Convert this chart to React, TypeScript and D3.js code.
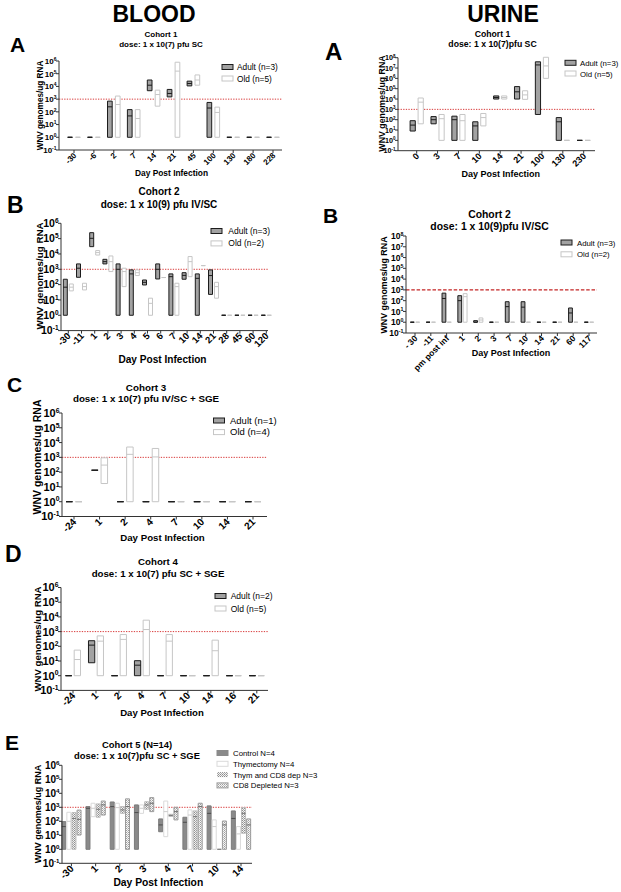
import React from 'react';
import * as d3 from 'd3';

// ================= DATA =================
// Blood, Cohort 1
const bloodC1Days = ['-30', '-6', '2', '7', '14', '21', '45', '100', '130', '180', '228'];
const bloodC1AdultLow = [1, 1, 1, 1, 4600, 1500, 11000, 1, 1, 1, 1];
const bloodC1AdultMid = [1, 1, 250, 48, 12500, 2800, 17000, 200, 1, 1, 1];
const bloodC1AdultHigh = [1, 1, 700, 150, 32000, 5800, 26000, 550, 1, 1, 1];
const bloodC1OldLow = [1, 1, 1, 1, 280, 1, 12500, 1, 1, 1, 1];
const bloodC1OldMid = [1, 1, 380, 30, 2300, 160000, 32000, 90, 1, 1, 1];
const bloodC1OldHigh = [1, 1, 1750, 150, 5100, 800000, 80000, 235, 1, 1, 1];

// Urine, Cohort 1
const urineC1Days = ['0', '3', '7', '10', '14', '21', '100', '130', '230'];
const urineC1AdultLow = [8, 40, 1, 1, 10000, 10000, 320, 1, 1];
const urineC1AdultMid = [30, 100, 100, 25, 14000, 50000, 20000000, 63, 1];
const urineC1AdultHigh = [80, 200, 220, 63, 20000, 160000, 40000000, 160, 1];
const urineC1OldLow = [40, 1, 1, 25, 10000, 9300, 1000000, 1, 1];
const urineC1OldMid = [5000, 125, 80, 160, 14000, 25000, 16000000, 1, 1];
const urineC1OldHigh = [12600, 320, 320, 400, 20000, 63000, 110000000, 1, 1];

// Blood, Cohort 2
const bloodC2Days = ['-30', '-11', '1', '2', '3', '4', '5', '6', '7', '10', '14', '21', '28', '45', '60', '120'];
const bloodC2AdultLow = [1, 300, 30000, 2240, 1, 1, 95, 234, 1, 224, 1, 23, 1, 1, 1, 1];
const bloodC2AdultMid = [68, 1175, 105000, 3160, 1000, 500, 141, 1000, 330, 400, 257, 390, 1, 1, 1, 1];
const bloodC2AdultHigh = [224, 2240, 245000, 4470, 2240, 910, 200, 2240, 500, 600, 500, 910, 1, 1, 1, 1];
const bloodC2OldLow = [39, 45, 8500, 710, 74, 390, 1, 290, 1, 330, 1740, 13, 1, 1, 1, 1];
const bloodC2OldMid = [68, 74, 12300, 3160, 710, 600, 6, 290, 74, 3160, 1740, 74, 1, 1, 1, 1];
const bloodC2OldHigh = [110, 123, 16600, 7400, 1175, 910, 13, 290, 123, 6760, 1740, 141, 1, 1, 1, 1];

// Urine, Cohort 2
const urineC2Days = ['- 30', '-11', 'pm post inf', '1', '2', '3', '7', '10', '14', '21', '60', '117'];
const urineC2AdultLow = [1, 1, 1, 1, 1, 1, 1, 1, 1, 1, 1, 1];
const urineC2AdultMid = [1, 1, 160, 100, 1, 1, 28, 25, 1, 1, 7.2, 1];
const urineC2AdultHigh = [1, 1, 500, 290, 1.4, 1, 80, 80, 1, 1, 21, 1];
const urineC2OldLow = [1, 1, 1, 1, 1, 1, 1, 1, 1, 1, 1, 1];
const urineC2OldMid = [1, 1, 1, 235, 1.6, 1, 1, 1, 1, 1, 1, 1];
const urineC2OldHigh = [1, 1, 1, 450, 2.5, 1, 1, 1, 1, 1, 1, 1];

// Blood, Cohort 3
const bloodC3Days = ['-24', '1', '2', '4', '7', '10', '14', '21'];
const bloodC3AdultLow = [1, 135, 1, 1, 1, 1, 1, 1];
const bloodC3AdultMid = [1, 135, 1, 1, 1, 1, 1, 1];
const bloodC3AdultHigh = [1, 135, 1, 1, 1, 1, 1, 1];
const bloodC3OldLow = [1, 17, 1, 1, 1, 1, 1, 1];
const bloodC3OldMid = [1, 300, 1600, 1070, 1, 1, 1, 1];
const bloodC3OldHigh = [1, 930, 5000, 4000, 1, 1, 1, 1];

// Blood, Cohort 4
const bloodC4Days = ['-24', '1', '2', '4', '7', '10', '14', '16', '21'];
const bloodC4AdultLow = [1, 7.6, 1, 1, 1, 1, 1, 1, 1];
const bloodC4AdultMid = [1, 120, 1, 5.2, 1, 1, 1, 1, 1];
const bloodC4AdultHigh = [1, 240, 1, 10.5, 1, 1, 1, 1, 1];
const bloodC4OldLow = [1, 1, 1, 1, 1, 1, 1, 1, 1];
const bloodC4OldMid = [12.6, 224, 295, 1380, 224, 1, 50, 1, 1];
const bloodC4OldHigh = [55, 510, 630, 6000, 630, 1, 263, 1, 1];

// Blood, Cohort 5
const bloodC5Days = ['-30', '1', '2', '3', '4', '7', '10', '14'];
const c5ControlLow = [1, 1, 1, 1, 18, 1, 1, 1];
const c5ControlMid = [42, 850, 1120, 420, 55, 85, 370, 160];
const c5ControlHigh = [95, 1120, 2400, 1480, 148, 195, 1260, 550];
const c5ThymLow = [1, 214, 1, 370, 8, 1, 1, 1];
const c5ThymMid = [100, 850, 950, 850, 490, 280, 42, 12.6];
const c5ThymHigh = [440, 1950, 1950, 1480, 2800, 650, 126, 42];
const c5ThymCD8Low = [1, 195, 370, 720, 224, 1, 1, 14];
const c5ThymCD8Mid = [160, 720, 650, 1480, 263, 214, 1, 370];
const c5ThymCD8High = [420, 1740, 1120, 2500, 316, 550, 1, 950];
const c5CD8Low = [10.5, 280, 1, 490, 126, 1, 1, 1];
const c5CD8Mid = [138, 1480, 1120, 1950, 490, 1120, 55, 55];
const c5CD8High = [630, 2800, 4000, 4900, 1000, 1950, 105, 148];

const threshold = 1000;

// ================= STYLES =================
const ADULT = { fill: '#a2a2a2', stroke: '#1c1c1c', median: '#1c1c1c', legendStroke: '#1c1c1c' };
const OLD = { fill: '#ffffff', stroke: '#c6c6c6', median: '#c6c6c6', legendStroke: '#c6c6c6' };
const CONTROL = { fill: '#8a8a8a', stroke: '#7c7c7c', median: '#4c4c4c', legendStroke: '#8a8a8a' };
const THYM = { fill: '#ffffff', stroke: '#dadada', median: '#cccccc', legendStroke: '#dadada' };
const THYMCD8 = { fill: 'url(#dotsA)', stroke: '#bdbdbd', median: '#777777', legendStroke: 'none' };
const CD8 = { fill: 'url(#dotsB)', stroke: '#9a9a9a', median: '#6a6a6a', legendStroke: '#9a9a9a' };

const FONT = '"Liberation Sans", Arial, Helvetica, sans-serif';

const pair = (aL, aM, aH, oL, oM, oH, aLab, oLab) => [
  { ...ADULT, label: aLab, low: aL, mid: aM, high: aH },
  { ...OLD, label: oLab, low: oL, mid: oM, high: oH },
];

const panels = [
  {
    key: 'bA', letter: 'A', letterX: 10, letterY: 51.7, letterSize: 21,
    title1: 'Cohort 1', title2: 'dose: 1 x 10(7) pfu SC', titleX: 161, title1Y: 37, title2Y: 47, titleSize: 8,
    cats: bloodC1Days,
    series: pair(bloodC1AdultLow, bloodC1AdultMid, bloodC1AdultHigh, bloodC1OldLow, bloodC1OldMid, bloodC1OldHigh, 'Adult (n=3)', 'Old (n=5)'),
    axisX: 59, xEnd: 282, xFirst: 74, xLast: 273, yTop: 61, yBottom: 150, top: 1e6,
    barW: 4.7, gap: 3.2, tickSize: 8, xtickSize: 8,
    ylabX: 43, ylabY: 105.5, ylabSize: 8.2, xlabX: 171.5, xlabY: 176, xlabSize: 8.4,
    legX: 222, legY: 64.5, legStep: 11.5, legTextX: 237, legSize: 8.3, ref: 'dot',
  },
  {
    key: 'uA', letter: 'A', letterX: 325, letterY: 60, letterSize: 24,
    title1: 'Cohort 1', title2: 'dose: 1 x 10(7)pfu SC', titleX: 492.5, title1Y: 36.5, title2Y: 46.5, titleSize: 8.7,
    cats: urineC1Days,
    series: pair(urineC1AdultLow, urineC1AdultMid, urineC1AdultHigh, urineC1OldLow, urineC1OldMid, urineC1OldHigh, 'Adult (n=3)', 'Old (n=5)'),
    axisX: 398, xEnd: 595, xFirst: 416.7, xLast: 583.7, yTop: 57.7, yBottom: 150.7, top: 1e8,
    barW: 5.2, gap: 2.8, tickSize: 7.2, xtickSize: 9,
    ylabX: 384.5, ylabY: 103.5, ylabSize: 8.8, xlabX: 500.8, xlabY: 177, xlabSize: 9,
    legX: 565, legY: 60.3, legStep: 10.7, legTextX: 580, legSize: 7.8, ref: 'dot',
  },
  {
    key: 'bB', letter: 'B', letterX: 7, letterY: 213, letterSize: 23,
    title1: 'Cohort 2', title2: 'dose: 1 x 10(9) pfu IV/SC', titleX: 159, title1Y: 195, title2Y: 207.7, titleSize: 10,
    cats: bloodC2Days,
    series: pair(bloodC2AdultLow, bloodC2AdultMid, bloodC2AdultHigh, bloodC2OldLow, bloodC2OldMid, bloodC2OldHigh, 'Adult (n=3)', 'Old (n=2)'),
    axisX: 61, xEnd: 268, xFirst: 68.3, xLast: 266.3, yTop: 223.3, yBottom: 330.6, top: 1e6,
    barW: 4, gap: 2, tickSize: 10.5, xtickSize: 9.5,
    ylabX: 42.5, ylabY: 276, ylabSize: 9.8, xlabX: 162.5, xlabY: 363, xlabSize: 10.1,
    legX: 211, legY: 228.5, legStep: 12.4, legTextX: 228.3, legSize: 8.5, ref: 'dot',
  },
  {
    key: 'uB', letter: 'B', letterX: 323, letterY: 223.3, letterSize: 21,
    title1: 'Cohort 2', title2: 'dose: 1 x 10(9)pfu IV/SC', titleX: 489.5, title1Y: 218.3, title2Y: 230, titleSize: 10.4,
    cats: urineC2Days,
    series: pair(urineC2AdultLow, urineC2AdultMid, urineC2AdultHigh, urineC2OldLow, urineC2OldMid, urineC2OldHigh, 'Adult (n=3)', 'Old (n=2)'),
    axisX: 406, xEnd: 597, xFirst: 415, xLast: 589, yTop: 236, yBottom: 333, top: 1e8,
    barW: 3.8, gap: 1.6, tickSize: 8.5, xtickSize: 8.5,
    ylabX: 386.5, ylabY: 285, ylabSize: 8.9, xlabX: 511, xlabY: 356, xlabSize: 9,
    legX: 561, legY: 240, legStep: 11.8, legTextX: 577, legSize: 7.8, ref: 'dash',
  },
  {
    key: 'bC', letter: 'C', letterX: 7, letterY: 391.7, letterSize: 21,
    title1: 'Cohort 3', title2: 'dose: 1 x 10(7) pfu IV/SC + SGE', titleX: 146, title1Y: 390.7, title2Y: 401.7, titleSize: 9.8,
    cats: bloodC3Days,
    series: pair(bloodC3AdultLow, bloodC3AdultMid, bloodC3AdultHigh, bloodC3OldLow, bloodC3OldMid, bloodC3OldHigh, 'Adult (n=1)', 'Old (n=4)'),
    axisX: 62, xEnd: 267, xFirst: 74, xLast: 253, yTop: 413, yBottom: 516.5, top: 1e6,
    barW: 6.5, gap: 3, tickSize: 11, xtickSize: 10,
    ylabX: 41, ylabY: 457, ylabSize: 10.5, xlabX: 162.5, xlabY: 541, xlabSize: 9.7,
    legX: 213.5, legY: 418, legStep: 11.6, legTextX: 230, legSize: 9.5, ref: 'dot',
  },
  {
    key: 'bD', letter: 'D', letterX: 5, letterY: 561.7, letterSize: 23,
    title1: 'Cohort 4', title2: 'dose: 1 x 10(7) pfu SC + SGE', titleX: 158, title1Y: 565, title2Y: 576.7, titleSize: 9.7,
    cats: bloodC4Days,
    series: pair(bloodC4AdultLow, bloodC4AdultMid, bloodC4AdultHigh, bloodC4OldLow, bloodC4OldMid, bloodC4OldHigh, 'Adult (n=2)', 'Old (n=5)'),
    axisX: 61, xEnd: 268, xFirst: 73, xLast: 256.8, yTop: 587.5, yBottom: 690.4, top: 1e6,
    barW: 6.3, gap: 2.4, tickSize: 11, xtickSize: 10,
    ylabX: 41, ylabY: 639, ylabSize: 9.6, xlabX: 162, xlabY: 716, xlabSize: 9.6,
    legX: 215, legY: 593.5, legStep: 12.5, legTextX: 230.7, legSize: 8.5, ref: 'dot',
  },
  {
    key: 'bE', letter: 'E', letterX: 5, letterY: 750, letterSize: 21,
    title1: 'Cohort 5 (N=14)', title2: 'dose: 1 x 10(7)pfu SC + SGE', titleX: 137, title1Y: 747.7, title2Y: 759.3, titleSize: 9.4,
    cats: bloodC5Days,
    series: [
      { ...CONTROL, label: 'Control N=4', low: c5ControlLow, mid: c5ControlMid, high: c5ControlHigh },
      { ...THYM, label: 'Thymectomy N=4', low: c5ThymLow, mid: c5ThymMid, high: c5ThymHigh },
      { ...THYMCD8, label: 'Thym and CD8 dep N=3', low: c5ThymCD8Low, mid: c5ThymCD8Mid, high: c5ThymCD8High },
      { ...CD8, label: 'CD8 Depleted N=3', low: c5CD8Low, mid: c5CD8Mid, high: c5CD8High },
    ],
    axisX: 62, xEnd: 252, xFirst: 71.4, xLast: 241, yTop: 765.3, yBottom: 863.3, top: 1e6,
    barW: 4, gap: 1.1, tickSize: 10, xtickSize: 10,
    ylabX: 41, ylabY: 814, ylabSize: 9, xlabX: 158.3, xlabY: 886, xlabSize: 10.3,
    legX: 217, legY: 750.5, legStep: 10.8, legTextX: 233, legSize: 7.8, ref: 'dot',
  },
];

function Panel({ p }) {
  const y = d3.scaleLog().domain([0.1, p.top]).range([p.yBottom, p.yTop]);
  const x = d3.scalePoint().domain(p.cats).range([p.xFirst, p.xLast]);
  const exps = d3.range(-1, Math.round(Math.log10(p.top)) + 1);
  const n = p.series.length;
  const groupW = n * p.barW + (n - 1) * p.gap;
  const axisY = p.yBottom;
  return (
    <g>
      <text x={p.letterX} y={p.letterY} fontSize={p.letterSize} fontWeight="bold" fontFamily={FONT}>{p.letter}</text>
      <text x={p.titleX} y={p.title1Y} fontSize={p.titleSize} fontWeight="bold" textAnchor="middle" fontFamily={FONT}>{p.title1}</text>
      <text x={p.titleX} y={p.title2Y} fontSize={p.titleSize} fontWeight="bold" textAnchor="middle" fontFamily={FONT}>{p.title2}</text>

      {/* threshold line */}
      <line x1={p.axisX} x2={p.xEnd} y1={y(threshold)} y2={y(threshold)}
        stroke={p.ref === 'dash' ? '#c42424' : '#d83a3a'} strokeWidth={p.ref === 'dash' ? 1.1 : 1}
        strokeDasharray={p.ref === 'dash' ? '3.5,1.8' : '1.3,1.3'} />

      {/* bars */}
      {p.cats.map((c, ci) => {
        const cx = x(c);
        return p.series.map((s, si) => {
          const left = cx - groupW / 2 + si * (p.barW + p.gap);
          const yHi = y(s.high[ci]);
          const yLo = y(s.low[ci]);
          const yMid = y(s.mid[ci]);
          const d = `M${left},${yHi}H${left + p.barW}V${yLo}H${left}Z`;
          return (
            <g key={`${ci}-${si}`}>
              <path d={d} fill={s.fill} stroke={s.stroke} strokeWidth={1} />
              <line x1={left} x2={left + p.barW} y1={yMid} y2={yMid} stroke={s.median} strokeWidth={1} />
            </g>
          );
        });
      })}

      {/* axes */}
      <line x1={p.axisX} x2={p.axisX} y1={y(p.top)} y2={axisY} stroke="#333" strokeWidth={1} />
      <line x1={p.axisX} x2={p.xEnd} y1={axisY} y2={axisY} stroke="#333" strokeWidth={1} />
      {exps.map((e) => (
        <g key={e}>
          <line x1={p.axisX - 3} x2={p.axisX} y1={y(Math.pow(10, e))} y2={y(Math.pow(10, e))} stroke="#333" strokeWidth={1} />
          <text x={p.axisX - 2.5} y={y(Math.pow(10, e)) + p.tickSize * 0.36} fontSize={p.tickSize} fontWeight="bold"
            textAnchor="end" fontFamily={FONT}>
            10<tspan dy={-p.tickSize * 0.38} fontSize={p.tickSize * 0.62}>{e}</tspan>
          </text>
        </g>
      ))}
      {p.cats.map((c) => (
        <g key={c}>
          <line x1={x(c)} x2={x(c)} y1={axisY} y2={axisY + 3} stroke="#333" strokeWidth={1} />
          <text transform={`translate(${x(c) + 3},${axisY + 6}) rotate(-45)`} fontSize={p.xtickSize} fontWeight="bold"
            textAnchor="end" fontFamily={FONT}>{c}</text>
        </g>
      ))}
      <text transform={`translate(${p.ylabX},${p.ylabY}) rotate(-90)`} fontSize={p.ylabSize} fontWeight="bold"
        textAnchor="middle" fontFamily={FONT}>WNV genomes/ug RNA</text>
      <text x={p.xlabX} y={p.xlabY} fontSize={p.xlabSize} fontWeight="bold" textAnchor="middle" fontFamily={FONT}>Day Post Infection</text>

      {/* legend */}
      {p.series.map((s, si) => (
        <g key={s.label}>
          <rect x={p.legX} y={p.legY + si * p.legStep} width={11} height={5} fill={s.fill}
            stroke={s.legendStroke} strokeWidth={1} />
          <text x={p.legTextX} y={p.legY + si * p.legStep + 5.5} fontSize={p.legSize} fontFamily={FONT}>{s.label}</text>
        </g>
      ))}
    </g>
  );
}

export default function App() {
  return (
    <svg width={621} height={892} style={{ position: 'absolute', left: 0, top: 0, background: '#fff' }}>
      <defs>
        <pattern id="dotsA" width={2} height={2} patternUnits="userSpaceOnUse">
          <rect width={2} height={2} fill="#f2f2f2" />
          <rect width={1} height={1} fill="#8e8e8e" />
          <rect x={1} y={1} width={1} height={1} fill="#a8a8a8" />
        </pattern>
        <pattern id="dotsB" width={2} height={2} patternUnits="userSpaceOnUse">
          <rect width={2} height={2} fill="#f6f6f6" />
          <rect width={1} height={1} fill="#9e9e9e" />
          <rect x={1} y={1} width={1} height={1} fill="#c0c0c0" />
        </pattern>
      </defs>
      <rect width={621} height={892} fill="#fff" />
      <text x={154} y={21.7} fontSize={23} fontWeight="bold" textAnchor="middle" fontFamily={FONT}>BLOOD</text>
      <text x={503} y={21.7} fontSize={23} fontWeight="bold" textAnchor="middle" fontFamily={FONT}>URINE</text>
      {panels.map((p) => <Panel key={p.key} p={p} />)}
    </svg>
  );
}
